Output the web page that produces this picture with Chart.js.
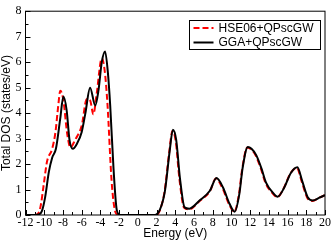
<!DOCTYPE html>
<html>
<head>
<meta charset="utf-8">
<script src="https://cdn.jsdelivr.net/npm/chart.js@4/dist/chart.umd.min.js"></script>
<style>
  html, body { margin: 0; padding: 0; background: #fff; }
  #wrap { width: 332px; height: 243px; }
</style>
</head>
<body>
<div id="wrap"><canvas id="dos"></canvas></div>
<script>
// GGA+QPscGW (black solid)
const ggaEnergy = [-12, -11, -10.6, -10.25, -9.9, -9.5, -9.15, -8.75, -8.3, -7.95, -7.6, -7.3, -6.95, -6.5, -6.0, -5.6, -5.1, -4.55, -4.2, -3.85, -3.5, -3.2, -2.95, -2.6, -2.25, -1.9, 0, 1.8, 2.35, 2.9, 3.4, 3.75, 4.1, 4.5, 5.0, 5.5, 6.6, 7.7, 8.4, 9.1, 9.8, 10.35, 10.85, 11.2, 11.75, 12.15, 12.65, 13.2, 13.7, 14.4, 14.95, 15.65, 16.35, 17.05, 17.55, 18.15, 18.7, 19.4, 20];
const ggaDos = [0, 0, 0.02, 0.15, 0.7, 1.7, 2.25, 2.6, 3.75, 4.65, 4.1, 2.95, 2.6, 2.8, 3.25, 4.0, 5.0, 4.3, 4.9, 6.0, 6.42, 5.6, 4.3, 1.85, 0.2, 0, 0, 0, 0.2, 0.95, 2.5, 3.35, 2.95, 1.45, 0.3, 0.25, 0.57, 0.95, 1.45, 1.08, 0.44, 0.13, 0.83, 1.85, 2.67, 2.6, 2.35, 1.84, 1.27, 0.89, 0.72, 1.08, 1.65, 1.87, 1.35, 0.7, 0.57, 0.68, 0.78];

// HSE06+QPscGW (red dashed)
const hseEnergy = [-12, -11.1, -10.75, -10.4, -10.05, -9.7, -9.15, -8.8, -8.5, -8.28, -7.95, -7.55, -7.2, -6.7, -6.0, -5.45, -5.1, -4.75, -4.4, -3.85, -3.55, -3.25, -2.8, -2.45, -2.1, 0, 2.0, 2.35, 2.85, 3.35, 3.7, 4.05, 4.45, 4.95, 5.5, 6.6, 7.7, 8.35, 9.05, 9.75, 10.3, 10.8, 11.15, 11.7, 12.1, 12.6, 13.15, 13.65, 14.35, 14.9, 15.6, 16.3, 17.0, 17.5, 18.1, 18.65, 19.4, 20];
const hseDos = [0, 0, 0.02, 0.32, 1.2, 2.1, 2.6, 3.25, 4.3, 4.88, 4.5, 3.2, 2.65, 2.95, 3.5, 4.55, 4.5, 3.95, 4.75, 6.15, 5.7, 4.4, 1.33, 0.19, 0, 0, 0, 0.18, 0.9, 2.45, 3.3, 2.9, 1.4, 0.28, 0.22, 0.55, 0.93, 1.43, 1.05, 0.42, 0.12, 0.8, 1.8, 2.65, 2.58, 2.33, 1.82, 1.25, 0.87, 0.7, 1.06, 1.63, 1.85, 1.33, 0.68, 0.55, 0.68, 0.78];

const legendOrder = ['HSE06+QPscGW', 'GGA+QPscGW'];
const xTitle = 'Energy (eV)';
const yTitle = 'Total DOS (states/eV)';

function toPoints(xs, ys) {
    return xs.map((x, i) => ({x: x, y: ys[i]}));
}

const sansFont = '12px "Liberation Sans", Arial, sans-serif';
const serifFamily = "'Liberation Serif', 'Times New Roman', serif";

Chart.defaults.font.family = serifFamily;
Chart.defaults.font.size = 12;
Chart.defaults.color = '#000';

// inward ticks, frame, axis titles and legend box like the grace plot
const framePlugin = {
    id: 'frame',
    afterDraw(chart) {
        const ctx = chart.ctx;
        const a = chart.chartArea;
        const xs = chart.scales.x, ys = chart.scales.y;
        ctx.save();
        ctx.strokeStyle = '#000';
        ctx.lineWidth = 1;
        ctx.strokeRect(a.left, a.top, a.right - a.left, a.bottom - a.top);
        ctx.beginPath();
        for (let v = xs.min; v <= xs.max; v += 1) {
            const px = Math.round(xs.getPixelForValue(v)) + 0.5;
            const len = (v % 2 === 0) ? 5 : 3;
            ctx.moveTo(px, a.bottom);
            ctx.lineTo(px, a.bottom - len);
        }
        for (let v = ys.min; v <= ys.max; v += 0.5) {
            const py = Math.round(ys.getPixelForValue(v)) + 0.5;
            const len = (v % 1 === 0) ? 5 : 3;
            ctx.moveTo(a.left, py);
            ctx.lineTo(a.left + len, py);
        }
        ctx.stroke();

        // axis titles
        ctx.fillStyle = '#000';
        ctx.font = sansFont;
        ctx.textAlign = 'center';
        ctx.textBaseline = 'middle';
        ctx.fillText(xTitle, (a.left + a.right) / 2, 234);
        ctx.save();
        ctx.translate(7, (a.top + a.bottom) / 2);
        ctx.rotate(-Math.PI / 2);
        ctx.fillText(yTitle, 0, 0);
        ctx.restore();

        // legend
        const bx = 189.5, by = 20.5, bw = 131, bh = 29;
        ctx.fillStyle = '#fff';
        ctx.fillRect(bx, by, bw, bh);
        ctx.strokeRect(bx, by, bw, bh);
        ctx.textAlign = 'left';
        legendOrder.forEach((name, i) => {
            const ds = chart.data.datasets.find(d => d.label === name);
            const y = by + 7.5 + i * 14.5;
            ctx.strokeStyle = ds.borderColor;
            ctx.lineWidth = ds.borderWidth;
            ctx.setLineDash(ds.borderDash || []);
            ctx.beginPath();
            ctx.moveTo(bx + 4, y);
            ctx.lineTo(bx + 24, y);
            ctx.stroke();
            ctx.setLineDash([]);
            ctx.fillStyle = '#000';
            ctx.fillText(name, bx + 29, y + 0.5);
        });
        ctx.restore();
    }
};

const ctx = document.getElementById('dos').getContext('2d');

const dosChart = new Chart(ctx, {
    type: 'scatter',
    data: {
        datasets: [
            {
                label: 'GGA+QPscGW',
                data: toPoints(ggaEnergy, ggaDos),
                showLine: true,
                borderColor: '#000000',
                borderWidth: 2,
                pointRadius: 0,
                cubicInterpolationMode: 'monotone'
            },
            {
                label: 'HSE06+QPscGW',
                data: toPoints(hseEnergy, hseDos),
                showLine: true,
                borderColor: '#ff0000',
                borderWidth: 2,
                borderDash: [6, 3],
                pointRadius: 0,
                cubicInterpolationMode: 'monotone'
            }
        ]
    },
    options: {
        responsive: true,
        maintainAspectRatio: false,
        animation: false,
        layout: {padding: {top: 5, right: 6, left: 0, bottom: 0}},
        scales: {
            x: {
                type: 'linear',
                min: -12,
                max: 20,
                grid: {display: false, drawTicks: false},
                border: {display: false},
                ticks: {
                    stepSize: 2,
                    padding: 1,
                    autoSkip: false,
                    maxRotation: 0,
                    minRotation: 0,
                    color: '#000',
                    font: {family: serifFamily, size: 12}
                },
                afterFit: (scale) => { scale.height = 28; }
            },
            y: {
                min: 0,
                max: 8,
                grid: {display: false, drawTicks: false},
                border: {display: false},
                ticks: {
                    stepSize: 1,
                    padding: 4,
                    color: '#000',
                    font: {family: serifFamily, size: 12}
                },
                afterFit: (scale) => { scale.width = 25.5; }
            }
        },
        plugins: {
            legend: {display: false},
            tooltip: {enabled: false}
        }
    },
    plugins: [framePlugin]
});
</script>
</body>
</html>
